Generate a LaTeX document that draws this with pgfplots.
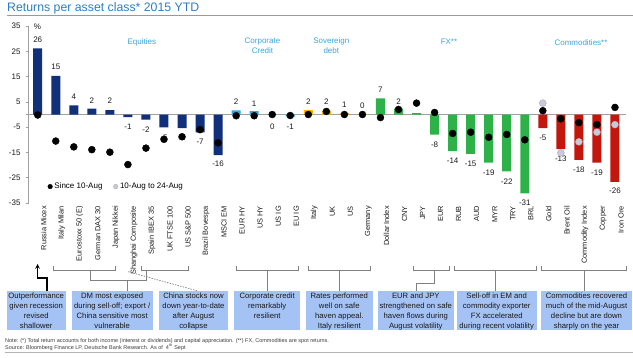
\documentclass[border=0pt]{standalone}
\usepackage{pgfplots}
\pgfplotsset{compat=1.18}
\usepackage{fontspec}
\setmainfont{Liberation Sans}
\newcommand\fs[2]{\fontsize{#1}{#2}\selectfont}
\definecolor{eqc}{HTML}{10307A}
\definecolor{ccc}{HTML}{2AA9E0}
\definecolor{sdc}{HTML}{F6B600}
\definecolor{fxc}{HTML}{2DB24A}
\definecolor{cmc}{HTML}{C3160C}
\definecolor{boxc}{HTML}{A4C2F4}
\definecolor{titleblue}{HTML}{2C7EC2}
\definecolor{grpblue}{HTML}{3BA6DE}
\definecolor{axgray}{HTML}{A0A0A0}
\definecolor{lngray}{HTML}{808080}
\definecolor{dotgray}{HTML}{C9CAD9}
\definecolor{txt}{HTML}{1A1A1A}
\begin{document}
\begin{tikzpicture}
\useasboundingbox (0,0) rectangle (633bp,-358bp);
\begin{axis}[
  at={(28.7bp,-203bp)}, anchor=south west,
  scale only axis, width=597.1bp, height=177bp,
  xmin=-0.5, xmax=32.6, ymin=-35, ymax=35,
  clip=false,
  axis lines*=left,
  x axis line style={draw=none},
  y axis line style={draw=axgray, line width=0.6bp},
  xtick={0,...,32},
  xticklabels={Russia Micex, Italy Milan, Eurostoxx 50 (E), German DAX 30, Japan Nikkei, Shanghai Composite, Spain IBEX 35, UK FTSE 100, US S\&P 500, Brazil Bovespa, MSCI EM, EUR HY, US HY, US IG, EU IG, Italy, UK, US, Germany, Dollar Index, CNY, JPY, EUR, RUB, AUD, MYR, TRY, BRL, Gold, Brent Oil, Commodity Index, Copper, Iron Ore},
  x tick label style={rotate=90, anchor=east, inner sep=0pt, yshift=-6bp, font=\fs{7.4bp}{9bp}, text=txt},
  x tick style={draw=none},
  ytick={-35,-25,...,35},
  y tick label style={inner sep=0pt, xshift=-5bp, font=\fs{8bp}{9.6bp}, text=txt},
  /pgf/number format/assume math mode=true,
  y tick style={draw=axgray, line width=0.6bp},
  major tick length=3bp, tick align=outside,
  extra y ticks={0}, extra y tick labels={},
  extra y tick style={grid=major, major grid style={draw=axgray, line width=0.8bp}, tick style={draw=none}},
  legend style={at={(axis cs:0.55,-28.5)}, anchor=west, draw=none, fill=none,
    font=\fs{8bp}{9.6bp}, inner sep=0pt, row sep=0pt,
    /tikz/every even column/.append style={column sep=9bp}},
  legend columns=2,
  legend cell align=left,
  legend image code/.code={\draw[#1, mark size=2.3bp] plot coordinates {(2.5bp,0bp)};},
]
% bars
\addplot[ybar, bar width=9bp, bar shift=0pt, fill=eqc, draw=none, forget plot] coordinates
 {(0,26.2) (1,15.3) (2,3.6) (3,2.3) (4,1.7) (5,-1) (6,-2) (7,-5.1) (8,-5.4) (9,-7.1) (10,-16.1)};
\addplot[ybar, bar width=9bp, bar shift=0pt, fill=ccc, draw=none, forget plot] coordinates
 {(11,1.6) (12,1.3) (13,0.2) (14,-0.8)};
\addplot[ybar, bar width=9bp, bar shift=0pt, fill=sdc, draw=none, forget plot] coordinates
 {(15,1.7) (16,1.5) (17,0.5) (18,0.2)};
\addplot[ybar, bar width=9bp, bar shift=0pt, fill=fxc, draw=none, forget plot] coordinates
 {(19,6.4) (20,2.3) (21,0.5) (22,-8) (23,-14.5) (24,-15.6) (25,-19) (26,-22.5) (27,-31.2)};
\addplot[ybar, bar width=9bp, bar shift=0pt, fill=cmc, draw=none, forget plot] coordinates
 {(28,-5.4) (29,-13.7) (30,-17.9) (31,-19) (32,-26.6)};
% value labels
\addplot[only marks, mark=none, forget plot, nodes near coords, point meta=explicit symbolic,
  nodes near coords style={font=\fs{8bp}{9.6bp}, inner sep=0pt, anchor=center, text=txt}]
 table[meta=lab] {
x y lab
0 29.6 26
1 18.7 15
2 7.0 4
3 5.4 2
4 5.4 2
5 -5.0 -1
6 -6.0 -2
7 -9.2 -5
8 -9.2 -5
9 -10.9 -7
10 -19.6 -16
11 5.2 2
12 4.2 1
13 -5.0 0
14 -5.0 -1
15 5.2 2
16 5.2 2
17 4.0 1
18 3.6 0
19 9.9 7
20 5.2 2
21 4.4 1
22 -12.0 -8
23 -18.3 -14
24 -19.4 -15
25 -23.0 -19
26 -26.4 -22
27 -34.8 -31
28 -9.4 -5
29 -17.6 -13
30 -21.8 -18
31 -23.0 -19
32 -30.3 -26
};
% dots
\addplot[only marks, mark=*, mark size=3.5bp, mark options={fill=black, draw=black}] table {
x y
0 -0.2
1 -10.5
2 -12.8
3 -13.9
4 -14.9
5 -19.8
6 -13.3
7 -9.8
8 -8.8
9 -6.0
10 -11.2
11 -0.5
12 -0.5
13 0
14 -0.4
15 0
16 1.2
17 0
18 0
19 -1.2
20 2.0
21 4.5
22 0.8
23 -7.5
24 -7.0
25 -9.0
26 -7.9
27 -10.0
28 1.5
29 -1.7
30 -3.2
31 -4.0
32 2.8
};
\addlegendentry{Since 10-Aug}
\addplot[only marks, mark=*, mark size=3.5bp, mark options={fill=dotgray, draw=dotgray!85!black, line width=0.4bp}] table {
x y
28 4.5
29 -15.2
30 -10.8
31 -7.0
32 -4.0
};
\addlegendentry{10-Aug to 24-Aug}
\end{axis}
\begin{scope}[x=1bp,y=-1bp]
% title
\node[anchor=base west, inner sep=0pt, text=titleblue, font=\fs{12.3bp}{14bp}] at (7,11.5) {Returns per asset class* 2015 YTD};
\draw[draw=lngray!80, line width=1bp] (7,15) -- (633,15);
\node[inner sep=0pt, font=\fs{8bp}{9.6bp}, text=txt] at (37.5,26.3) {\%};
% group labels
\begin{scope}[every node/.style={inner sep=0pt, text=grpblue, font=\fs{8bp}{9.7bp}, align=center}]
\node at (141.8,42.3) {Equities};
\node at (262.5,45.8) {Corporate\\Credit};
\node at (331.3,45.8) {Sovereign\\debt};
\node at (449,41.5) {FX**};
\node at (581,42.3) {Commodities**};
\end{scope}
% connectors
\begin{scope}[draw=lngray, line width=0.8bp]
\draw[black, line width=1.1bp, -stealth] (47,290.7) -- (47,278) -- (37.6,278) -- (37.6,264);
\draw (53,266) -- (53,270) -- (115,270) -- (115,266);
\draw (90.7,270) -- (90.7,280) -- (146,280) -- (146,270);
\draw (127.7,280) -- (127.7,290.7);
\draw (141.7,266) -- (141.7,270) -- (188.3,270) -- (188.3,266);
\draw[dash pattern=on 1.5bp off 1.2bp, line width=0.7bp] (128,271.7) -- (197,290.7);
\draw (236.7,266) -- (236.7,270) -- (298.3,270) -- (298.3,266);
\draw (267.3,270) -- (267.3,290.7);
\draw (308.3,266) -- (308.3,270) -- (370,270) -- (370,266);
\draw (339,270) -- (339,290.7);
\draw (413.3,266) -- (413.3,270) -- (449.3,270) -- (449.3,266);
\draw (434,270) -- (434,283) -- (416,283) -- (416,290.7);
\draw (454,266) -- (454,270) -- (536.7,270) -- (536.7,266);
\draw (495,270) -- (495,290.7);
\draw (541.7,266) -- (541.7,270) -- (626,270) -- (626,266);
\draw (584,270) -- (584,290.7);
\end{scope}
% boxes
\fill[boxc] (6.7,290.7) rectangle (65.7,330);
\fill[boxc] (71.7,290.7) rectangle (152.7,330);
\fill[boxc] (159.3,290.7) rectangle (227.7,330);
\fill[boxc] (234.3,290.7) rectangle (300,330);
\fill[boxc] (306,290.7) rectangle (372.7,330);
\fill[boxc] (377.7,290.7) rectangle (454,330);
\fill[boxc] (456.7,290.7) rectangle (536.7,330);
\fill[boxc] (541.3,290.7) rectangle (631.7,330);
\begin{scope}[every node/.style={anchor=north, inner sep=0pt, text=txt, font=\fs{7.7bp}{10bp}, align=center}]
\node at (36.2,292.3) {Outperformance\\given recession\\revised\\shallower};
\node at (112.2,292.3) {DM most exposed\\during sell-off; export /\\China sensitive most\\vulnerable};
\node at (193.5,292.3) {China stocks now\\down year-to-date\\after August\\collapse};
\node at (267.2,292.3) {Corporate credit\\remarkably\\resilient};
\node at (339.3,292.3) {Rates performed\\well on safe\\haven appeal.\\Italy resilient};
\node at (415.8,292.3) {EUR and JPY\\strengthened on safe\\haven flows during\\August volatility};
\node at (496.7,292.3) {Sell-off in EM and\\commodity exporter\\FX accelerated\\during recent volatility};
\node at (586.5,292.3) {Commodities recovered\\much of the mid-August\\decline but are down\\sharply on the year};
\end{scope}
% notes
\node[anchor=base west, inner sep=0pt, font=\fs{5.5bp}{6.6bp}, text=txt!85] at (5,342.3) {Note: (*) Total return accounts for both income (interest or dividends) and capital appreciation. (**) FX, Commodities are spot returns.};
\node[anchor=base west, inner sep=0pt, font=\fs{5.5bp}{6.6bp}, text=txt!85] at (5,349.3) {Source: Bloomberg Finance LP, Deutsche Bank Research. As of\ \ 4\textsuperscript{th} Sept};
\draw[draw=lngray!60, line width=0.6bp] (5,352.3) -- (633,352.3);
\end{scope}
\end{tikzpicture}
\end{document}
